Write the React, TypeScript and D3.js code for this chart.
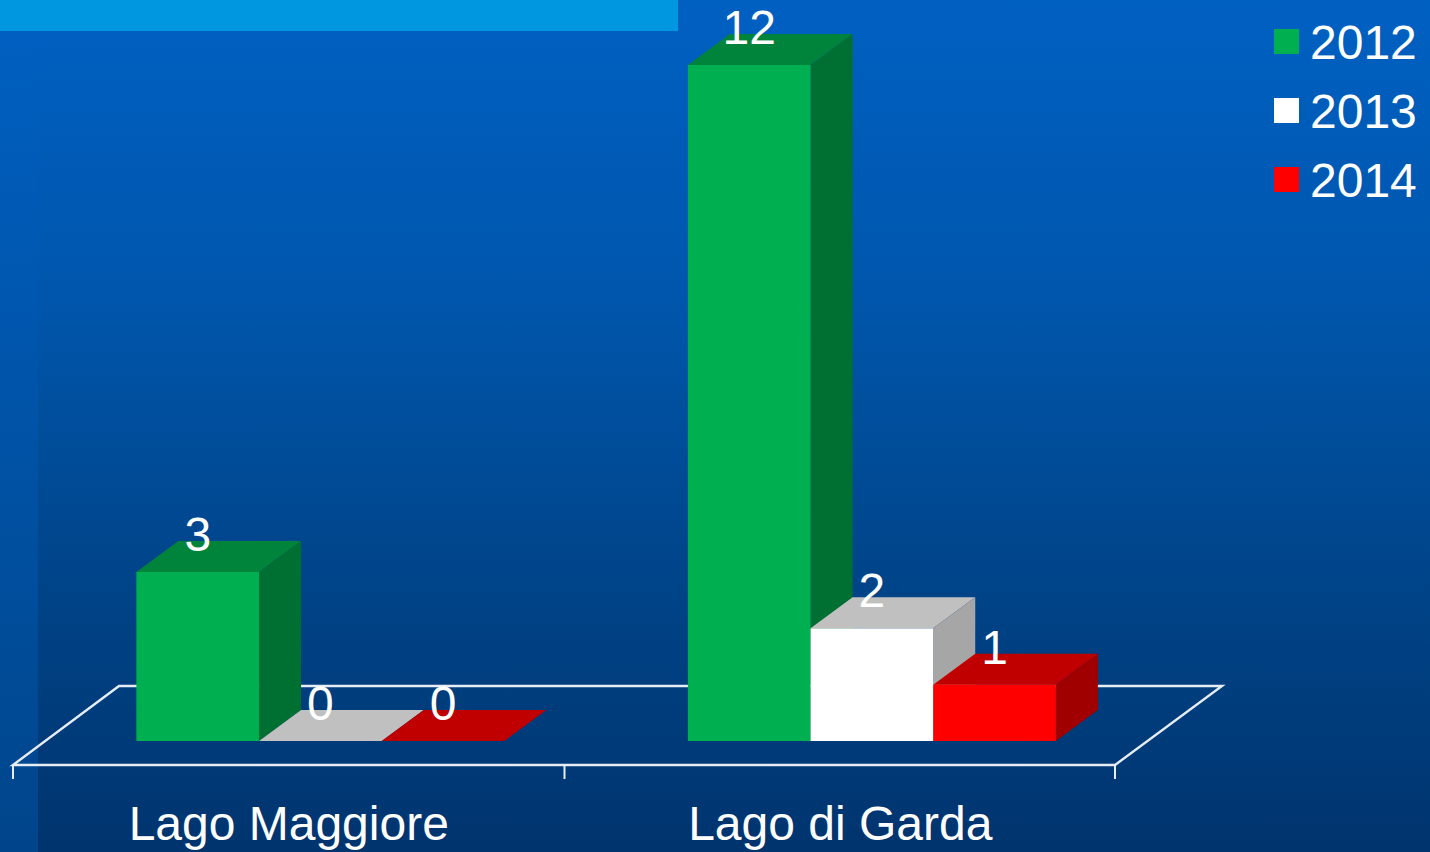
import React from "react";
import * as d3 from "d3";

const categories = ["Lago Maggiore", "Lago di Garda"];
const years = ["2012", "2013", "2014"];
const values2012 = [3, 12];
const values2013 = [0, 2];
const values2014 = [0, 1];
const seriesValues = [values2012, values2013, values2014];
const frontColors = ["#00b050", "#ffffff", "#ff0000"];
const topColors = ["#00843c", "#c0c0c0", "#c00000"];
const sideColors = ["#007032", "#a6a6a6", "#a00000"];

const W = 1430;
const H = 852;
const DX = 42;
const DY = 31;
const FONT = '"Liberation Sans", Arial, sans-serif';
const FS = 48;

const outer = d3.scaleBand<string>().domain(categories).range([13, 1116]);
const inner = d3.scaleBand<string>().domain(years).range([123.4, 491.4]);
const y = d3.scaleLinear().domain([0, 12]).range([741, 65]);
const floorFront = 765;
const floorBack = 686;
const LINE = "#e6edf5";

export default function App() {
  return (
    <svg
      width={W}
      height={H}
      viewBox={`0 0 ${W} ${H}`}
      style={{ position: "absolute", left: 0, top: 0, display: "block" }}
      fontFamily={FONT}
    >
      <defs>
        <linearGradient id="bg" x1="0" y1="0" x2="0" y2="1">
          <stop offset="0" stopColor="#0060c2" />
          <stop offset="0.35" stopColor="#0056ac" />
          <stop offset="0.7" stopColor="#004387" />
          <stop offset="1" stopColor="#00346e" />
        </linearGradient>
        <linearGradient id="strip" x1="0" y1="0" x2="0" y2="1">
          <stop offset="0" stopColor="#0060c2" />
          <stop offset="0.35" stopColor="#0057af" />
          <stop offset="1" stopColor="#00458b" />
        </linearGradient>
      </defs>
      <rect x={0} y={0} width={W} height={H} fill="url(#bg)" />
      <rect x={0} y={0} width={38} height={H} fill="url(#strip)" />
      <rect x={0} y={0} width={678} height={31} fill="#0096e0" />

      <path
        d={`M13,${floorFront}L119,${floorBack}L1222,${floorBack}L1115,${floorFront}Z`}
        fill="none"
        stroke={LINE}
        strokeWidth={2.4}
      />
      {outer.domain().concat("end").map((c, i) => {
        const x = i < categories.length ? outer(c)! : outer.range()[1] - 1;
        return <line key={c} x1={x} x2={x} y1={floorFront} y2={779} stroke={LINE} strokeWidth={2} />;
      })}
      {categories.map((c) => (
        <text
          key={c}
          x={outer(c)! + outer.bandwidth() / 2}
          y={840}
          fontSize={FS}
          fill="#fff"
          textAnchor="middle"
        >
          {c}
        </text>
      ))}

      {categories.map((c, ci) =>
        years.map((yr, si) => {
          const v = seriesValues[si][ci];
          const x0 = outer(c)! + inner(yr)!;
          const w = inner.bandwidth();
          const top = y(v);
          const base = y(0);
          return (
            <g key={c + yr}>
              <path
                d={`M${x0},${top}L${x0 + DX},${top - DY}L${x0 + w + DX},${top - DY}L${x0 + w},${top}Z`}
                fill={topColors[si]}
              />
              {v > 0 && (
                <path
                  d={`M${x0 + w},${top}L${x0 + w + DX},${top - DY}L${x0 + w + DX},${base - DY}L${x0 + w},${base}Z`}
                  fill={sideColors[si]}
                />
              )}
              {v > 0 && <rect x={x0} y={top} width={w} height={base - top} fill={frontColors[si]} />}
            </g>
          );
        })
      )}
      {categories.map((c, ci) =>
        years.map((yr, si) => {
          const v = seriesValues[si][ci];
          const x0 = outer(c)! + inner(yr)!;
          return (
            <text
              key={c + yr}
              x={x0 + inner.bandwidth() / 2}
              y={y(v) - 21}
              fontSize={FS}
              fill="#fff"
              textAnchor="middle"
            >
              {v}
            </text>
          );
        })
      )}

      {years.map((yr, i) => (
        <g key={yr}>
          <rect x={1274} y={29 + i * 69} width={25} height={25} fill={frontColors[i]} />
          <text x={1310} y={59 + i * 69} fontSize={FS} fill="#fff">
            {yr}
          </text>
        </g>
      ))}
    </svg>
  );
}
